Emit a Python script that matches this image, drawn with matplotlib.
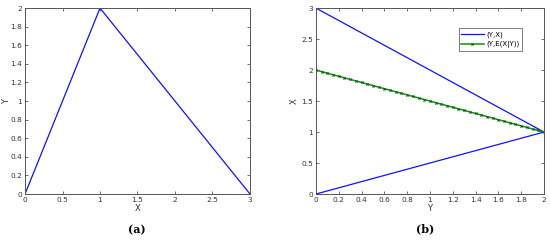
import matplotlib.pyplot as plt

# (a) triangle: Y as a function of X
x_a = [0, 1, 3]
y_a = [0, 2, 0]

# (b) (Y, X) branches and conditional mean E(X|Y)
y_upper = [0, 2]
x_upper = [3, 1]
y_lower = [0, 2]
x_lower = [0, 1]

y_b = [0.00, 0.05, 0.10, 0.15, 0.20, 0.25, 0.30, 0.35, 0.40, 0.45,
       0.50, 0.55, 0.60, 0.65, 0.70, 0.75, 0.80, 0.85, 0.90, 0.95,
       1.00, 1.05, 1.10, 1.15, 1.20, 1.25, 1.30, 1.35, 1.40, 1.45,
       1.50, 1.55, 1.60, 1.65, 1.70, 1.75, 1.80, 1.85, 1.90, 1.95, 2.00]
ex_b = [2.000, 1.975, 1.950, 1.925, 1.900, 1.875, 1.850, 1.825, 1.800, 1.775,
        1.750, 1.725, 1.700, 1.675, 1.650, 1.625, 1.600, 1.575, 1.550, 1.525,
        1.500, 1.475, 1.450, 1.425, 1.400, 1.375, 1.350, 1.325, 1.300, 1.275,
        1.250, 1.225, 1.200, 1.175, 1.150, 1.125, 1.100, 1.075, 1.050, 1.025, 1.000]

xticks_a = [0, 0.5, 1, 1.5, 2, 2.5, 3]
yticks_a = [0, 0.2, 0.4, 0.6, 0.8, 1, 1.2, 1.4, 1.6, 1.8, 2]
xticks_b = [0, 0.2, 0.4, 0.6, 0.8, 1, 1.2, 1.4, 1.6, 1.8, 2]
yticks_b = [0, 0.5, 1, 1.5, 2, 2.5, 3]

plt.rcParams['font.family'] = 'DejaVu Sans'
fig = plt.figure(figsize=(5.5, 2.43), dpi=100)

ax1 = fig.add_axes([0.0455, 0.2016, 0.409, 0.765])
ax2 = fig.add_axes([0.5745, 0.2016, 0.4145, 0.765])


def matlab_style(ax):
    ax.tick_params(direction='in', top=True, right=True, labelsize=5.3,
                   length=2.5, width=0.5, pad=2, colors='#333333')
    for s in ax.spines.values():
        s.set_linewidth(0.7)
        s.set_color('#555555')


ax1.plot(x_a, y_a, color='#1010ff', lw=0.9)
ax1.set_xlim(0, 3)
ax1.set_ylim(0, 2)
ax1.set_xticks(xticks_a)
ax1.set_xticklabels(['0', '0.5', '1', '1.5', '2', '2.5', '3'])
ax1.set_yticks(yticks_a)
ax1.set_yticklabels(['0', '0.2', '0.4', '0.6', '0.8', '1', '1.2', '1.4', '1.6', '1.8', '2'])
ax1.set_xlabel('X', fontsize=6, labelpad=1, color='#333333')
ax1.set_ylabel('Y', fontsize=6, color='#333333')
ax1.yaxis.set_label_coords(-0.062, 0.5)
matlab_style(ax1)

ax2.plot(y_upper, x_upper, color='#1010ff', lw=0.9, label='(Y,X)')
ax2.plot(y_lower, x_lower, color='#1010ff', lw=0.9)
ax2.plot(y_b, ex_b, color='#109010', lw=1.1, marker='x', markersize=1.6,
         markeredgecolor='#105010', markeredgewidth=0.6, label='(Y,E(X|Y))')
ax2.set_xlim(0, 2)
ax2.set_ylim(0, 3)
ax2.set_xticks(xticks_b)
ax2.set_xticklabels(['0', '0.2', '0.4', '0.6', '0.8', '1', '1.2', '1.4', '1.6', '1.8', '2'])
ax2.set_yticks(yticks_b)
ax2.set_yticklabels(['0', '0.5', '1', '1.5', '2', '2.5', '3'])
ax2.set_xlabel('Y', fontsize=6, labelpad=1, color='#333333')
ax2.set_ylabel('X', fontsize=6, labelpad=2, color='#333333')
matlab_style(ax2)
leg = ax2.legend(loc='upper left', bbox_to_anchor=(0.61, 0.91), fontsize=5,
                 frameon=True, fancybox=False, edgecolor='#444444',
                 handlelength=3.2, borderpad=0.4, labelspacing=0.5,
                 handletextpad=0.4)
leg.get_frame().set_linewidth(0.6)

fig.text(0.249, 0.053, '(a)', fontsize=8, fontweight='bold',
         family='DejaVu Serif', ha='center', va='center')
fig.text(0.773, 0.057, '(b)', fontsize=8, fontweight='bold',
         family='DejaVu Serif', ha='center', va='center')

fig.savefig('out.png', dpi=100)
plt.close(fig)
